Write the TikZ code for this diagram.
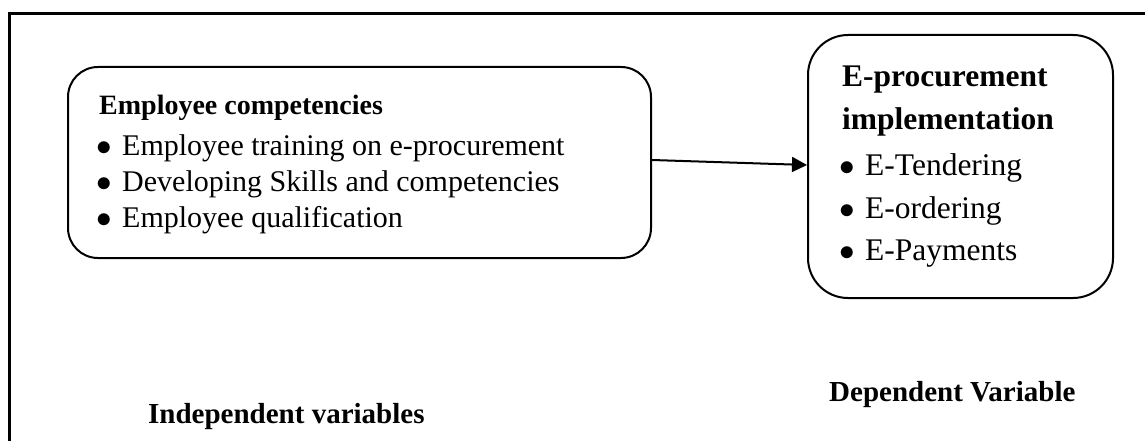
\documentclass[tikz,border=0pt]{standalone}
\usepackage{fontspec}
\setmainfont{Liberation Serif}
\usetikzlibrary{arrows.meta}
\newcommand\mybul{\makebox[26pt][l]{\scalebox{1.25}{$\bullet$}}}
\tikzset{
  frameline/.style={line width=2.2pt},
  varbox/.style={draw, line width=2pt, rectangle, inner sep=0pt},
  bodytext/.style={anchor=base west, inner sep=0pt, align=left},
  link/.style={line width=2pt, -{Triangle[length=15pt,width=15pt]}},
  varlabel/.style={anchor=base west, inner sep=0pt, font=\fontsize{29}{34}\selectfont\bfseries}
}
\begin{document}
\begin{tikzpicture}[x=1pt,y=-1pt]
\useasboundingbox (0,0) rectangle (1145,441);
% outer frame (left and top sides visible)
\draw[frameline] (9.5,441) -- (9.5,13.5) -- (1145,13.5);
% boxes
\node[varbox, rounded corners=30pt, minimum width=583pt, minimum height=191pt] (L) at (359.5,162.5) {};
\node[varbox, rounded corners=40pt, minimum width=305pt, minimum height=263pt] (R) at (960.5,166.5) {};
% left box text
\node[bodytext, font=\fontsize{28}{34}\selectfont\bfseries] (Lt) at (99,115) {Employee competencies};
\node[bodytext, font=\fontsize{30}{35}\selectfont] (L1) at (96,155) {\mybul Employee training on e-procurement};
\node[bodytext, font=\fontsize{30}{35}\selectfont] (L2) at (96,191) {\mybul Developing Skills and competencies};
\node[bodytext, font=\fontsize{30}{35}\selectfont] (L3) at (96,227) {\mybul Employee qualification};
% right box text
\node[bodytext, font=\fontsize{31.5}{43}\selectfont\bfseries] (Rt1) at (842,87) {E-procurement};
\node[bodytext, font=\fontsize{31.5}{43}\selectfont\bfseries] (Rt2) at (842,130) {implementation};
\node[bodytext, font=\fontsize{31.5}{43}\selectfont] (R1) at (839,175) {\mybul E-Tendering};
\node[bodytext, font=\fontsize{31.5}{43}\selectfont] (R2) at (839,218) {\mybul E-ordering};
\node[bodytext, font=\fontsize{31.5}{43}\selectfont] (R3) at (839,260) {\mybul E-Payments};
% connector
\draw[link] ([yshift=2.5pt]L.east) -- ([yshift=1.5pt]R.west);
% labels
\node[varlabel] (IV) at (148,423) {Independent variables};
\node[varlabel] (DV) at (829,401) {Dependent Variable};
\end{tikzpicture}
\end{document}
